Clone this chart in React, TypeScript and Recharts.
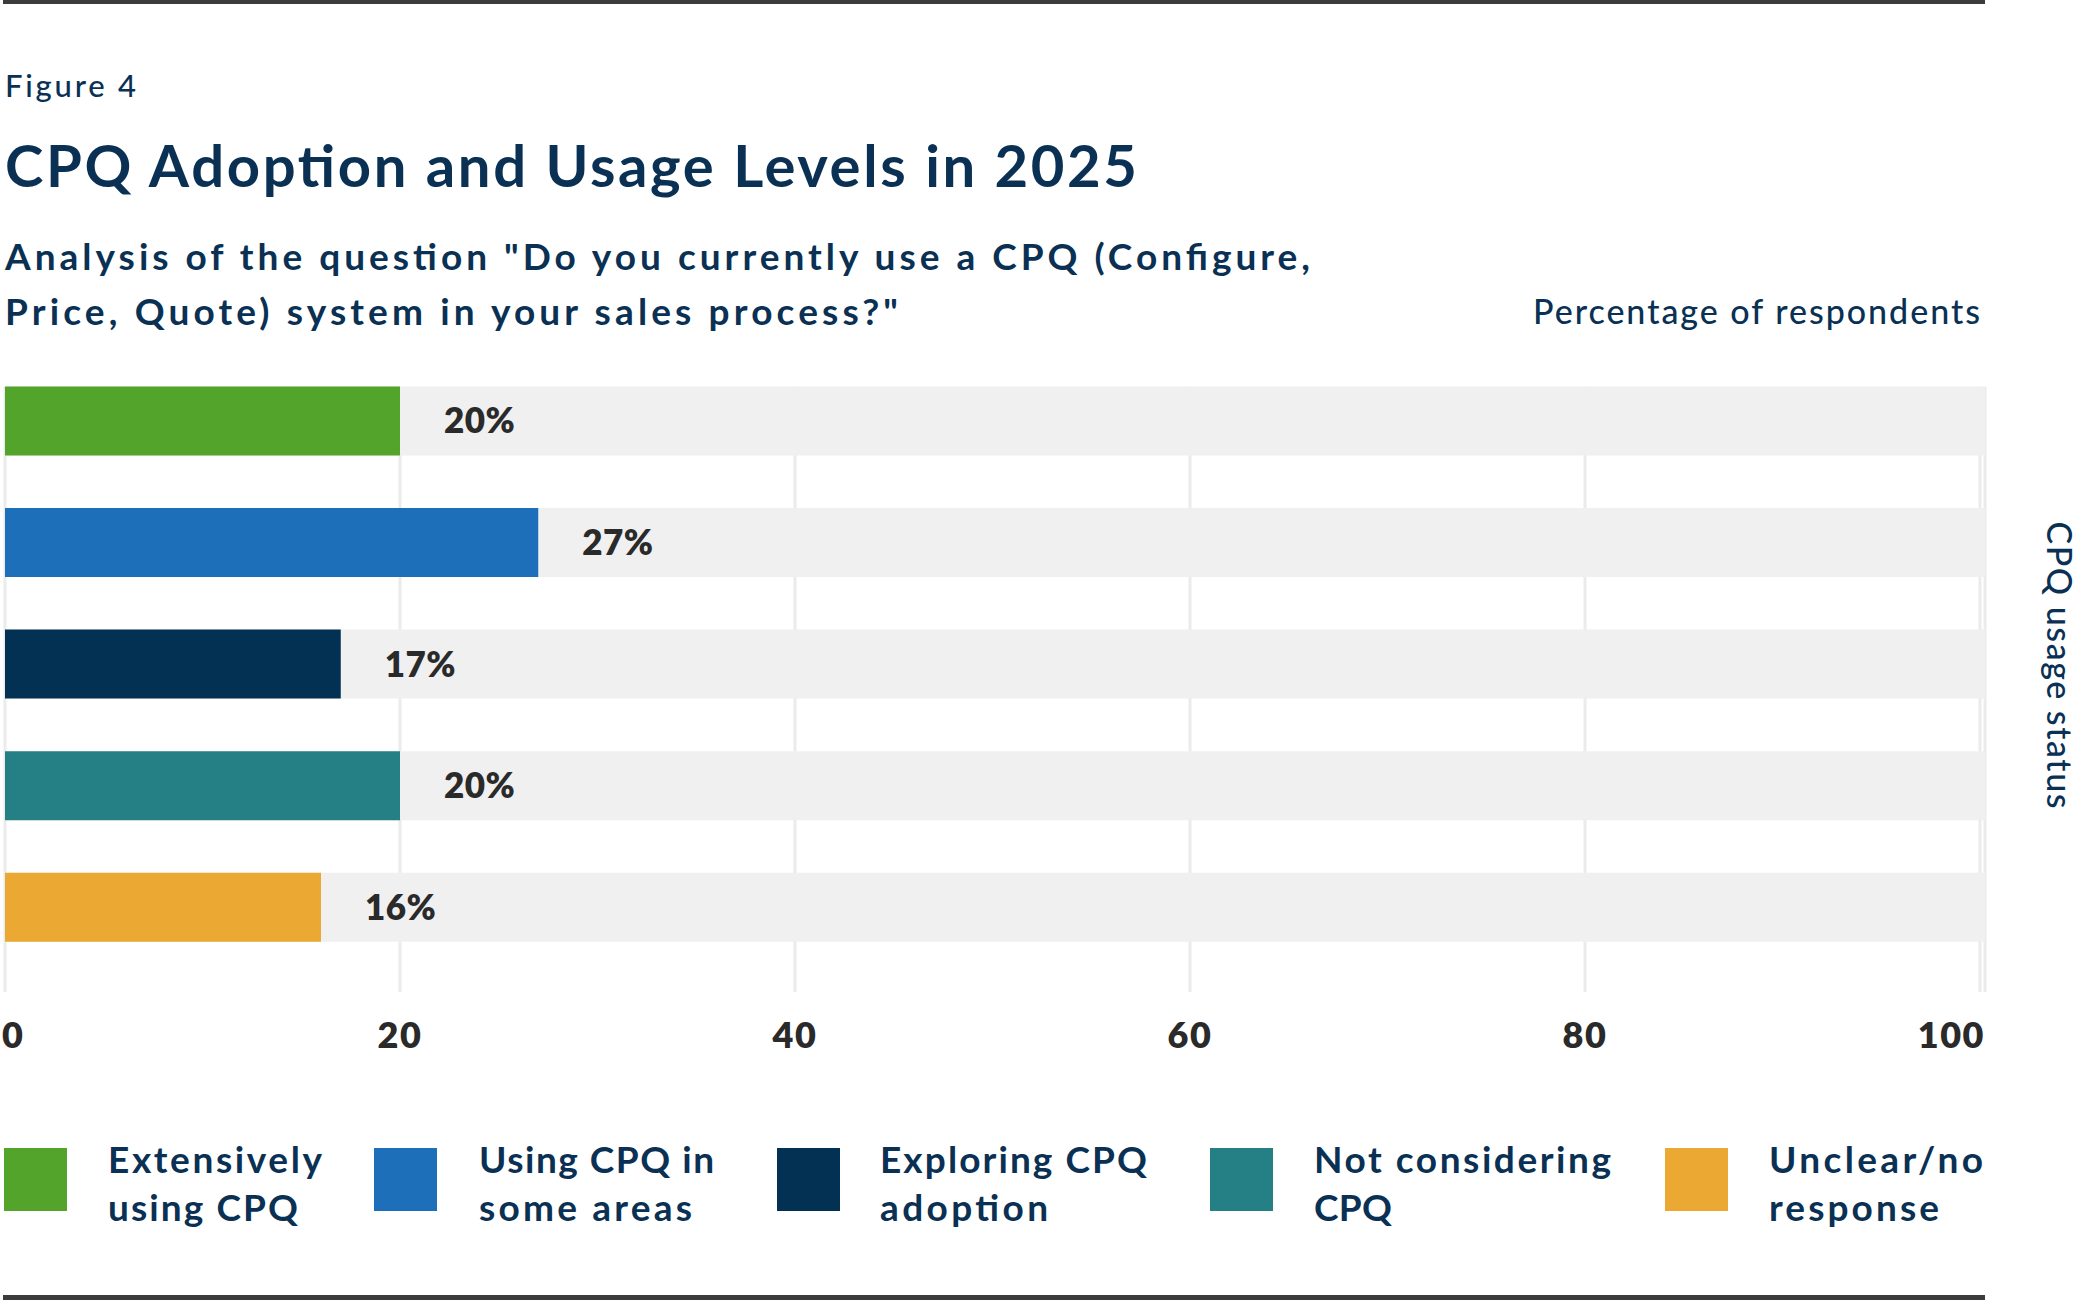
import React from 'react';
import { BarChart, Bar, XAxis, YAxis, CartesianGrid, Cell, LabelList, Legend } from 'recharts';

// ---- data ----
const categories = [
  'Extensively using CPQ',
  'Using CPQ in some areas',
  'Exploring CPQ adoption',
  'Not considering CPQ',
  'Unclear/no response',
];
const values = [20, 27, 17, 20, 16];
const legendLines = [
  ['Extensively', 'using CPQ'],
  ['Using CPQ in', 'some areas'],
  ['Exploring CPQ', 'adoption'],
  ['Not considering', 'CPQ'],
  ['Unclear/no', 'response'],
];
const xTicks = [0, 20, 40, 60, 80, 100];
const barColors = ['#52a52a', '#1c6fb8', '#023153', '#248084', '#eba832'];

const figureLabel = 'Figure 4';
const titleText = 'CPQ Adoption and Usage Levels in 2025';
const subtitleLines = [
  'Analysis of the question "Do you currently use a CPQ (Configure,',
  'Price, Quote) system in your sales process?"',
];
const xAxisTitle = 'Percentage of respondents';
const yAxisTitle = 'CPQ usage status';

const chartData = categories.map((name, i) => ({ name, value: values[i] }));

// ---- styling / layout ----
const FONT = 'Lato, "Open Sans", sans-serif';
const NAVY = '#0a3154';
const DARK = '#2a2a2a';
const W = 2084;
const H = 1300;

const legendSquareX = [4, 374, 777, 1210, 1665];
const legendTextX = [108, 479, 880, 1314, 1769];
const legendTextW = [
  [214, 190],
  [235, 213],
  [267, 168],
  [297, 78],
  [214, 170],
];

const XTick = (props: any) => {
  const { x, y, payload, index } = props;
  const last = xTicks.length - 1;
  let anchor: 'start' | 'middle' | 'end' = 'middle';
  let tx = x;
  if (index === 0) {
    anchor = 'start';
    tx = x - 3;
  } else if (index === last) {
    anchor = 'end';
    tx = x + 5;
  }
  return (
    <text
      x={tx}
      y={y + 80}
      textAnchor={anchor}
      fontFamily={FONT}
      fontSize={36}
      fontWeight={800}
      fill={DARK}
      letterSpacing={1.5}
    >
      {payload.value}
    </text>
  );
};

const ValueLabel = (props: any) => {
  const { x, y, width, height, value } = props;
  return (
    <text
      x={x + width + 44}
      y={y + height / 2 + 12.5}
      fontFamily={FONT}
      fontSize={35}
      fontWeight={800}
      fill={DARK}
      letterSpacing={0.5}
    >
      {`${value}%`}
    </text>
  );
};

const LegendContent = () => (
  <svg width={W} height={120} style={{ display: 'block', overflow: 'visible' }}>
    {legendLines.map((lines, i) => (
      <g key={categories[i]}>
        <rect x={legendSquareX[i]} y={8} width={63} height={63} fill={barColors[i]} />
        {lines.map((ln, j) => (
          <text
            key={ln}
            x={legendTextX[i]}
            y={33 + j * 48}
            fontFamily={FONT}
            fontSize={37}
            fontWeight={700}
            fill={NAVY}
            textLength={legendTextW[i][j]}
            lengthAdjust="spacing"
          >
            {ln}
          </text>
        ))}
      </g>
    ))}
  </svg>
);

export default function App() {
  return (
    <div style={{ position: 'absolute', left: 0, top: 0, width: W, height: H, background: '#fff', overflow: 'hidden' }}>
      <svg width={W} height={H} style={{ position: 'absolute', left: 0, top: 0 }}>
        <rect x={3} y={0} width={1982} height={4} fill="#3c3c3c" />
        <rect x={3} y={1295} width={1982} height={5} fill="#3c3c3c" />
        <text x={5} y={97} fontFamily={FONT} fontSize={31} fontWeight={500} fill={NAVY} textLength={131} lengthAdjust="spacing">
          {figureLabel}
        </text>
        <text x={5} y={187} fontFamily={FONT} fontSize={58} fontWeight={700} fill={NAVY} textLength={1132} lengthAdjust="spacing">
          {titleText}
        </text>
        <text x={5} y={270} fontFamily={FONT} fontSize={37} fontWeight={700} fill={NAVY} textLength={1305} lengthAdjust="spacing">
          {subtitleLines[0]}
        </text>
        <text x={5} y={325} fontFamily={FONT} fontSize={37} fontWeight={700} fill={NAVY} textLength={893} lengthAdjust="spacing">
          {subtitleLines[1]}
        </text>
        <text x={1980} y={324} textAnchor="end" fontFamily={FONT} fontSize={34} fontWeight={500} fill={NAVY} textLength={447} lengthAdjust="spacing">
          {xAxisTitle}
        </text>
        <text
          x={2047}
          y={665}
          textAnchor="middle"
          transform="rotate(90 2047 665)"
          fontFamily={FONT}
          fontSize={34}
          fontWeight={500}
          fill={NAVY}
          textLength={287}
          lengthAdjust="spacing"
        >
          {yAxisTitle}
        </text>
      </svg>
      <div style={{ position: 'absolute', left: 0, top: 0 }}>
        <BarChart
          width={W}
          height={H}
          layout="vertical"
          data={chartData}
          margin={{ top: 360.4, right: 99, bottom: 271.6, left: 5 }}
        >
          <CartesianGrid horizontal={false} vertical={true} stroke="#ebebeb" strokeWidth={3} y={386.7} height={605.3} fill="none" />
          <XAxis
            type="number"
            domain={[0, 100]}
            ticks={xTicks}
            interval={0}
            axisLine={false}
            tickLine={false}
            tickSize={0}
            tickMargin={0}
            height={60}
            padding={{ left: 0, right: 5 }}
            tick={(p: any) => <XTick {...p} />}
          />
          <YAxis type="category" dataKey="name" hide />
          <Legend
            layout="horizontal"
            verticalAlign="middle"
            align="center"
            content={() => <LegendContent />}
            wrapperStyle={{ top: 1140, left: 0, width: W, height: 120 }}
          />
          <Bar dataKey="value" barSize={69} background={{ fill: '#f0f0f0' }} isAnimationActive={false}>
            {chartData.map((d, i) => (
              <Cell key={d.name} fill={barColors[i]} />
            ))}
            <LabelList dataKey="value" content={(p: any) => <ValueLabel {...p} />} />
          </Bar>
        </BarChart>
      </div>
    </div>
  );
}
